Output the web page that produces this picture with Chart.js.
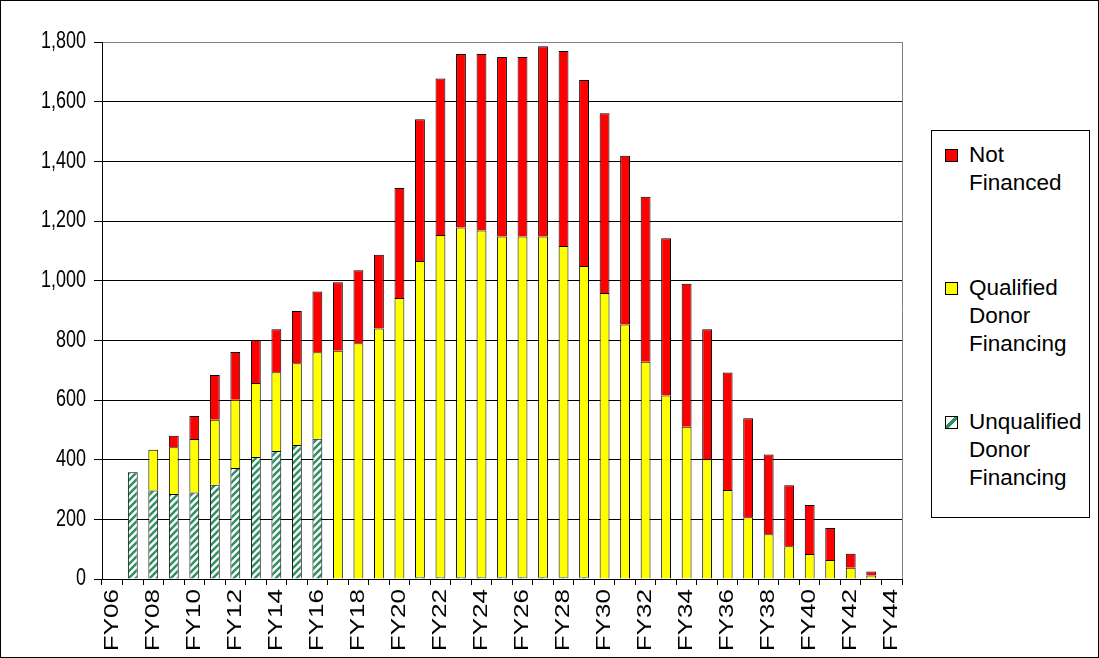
<!DOCTYPE html>
<html>
<head>
<meta charset="utf-8">
<script src="https://cdn.jsdelivr.net/npm/chart.js@4.4.1/dist/chart.umd.min.js"></script>
<style>
html,body{margin:0;padding:0;background:#fff;}
#c{position:absolute;left:0;top:0;}
#frame{position:absolute;left:0;top:0;width:1099px;height:658px;box-sizing:border-box;border:1px solid #000;pointer-events:none;}
#legend{position:absolute;left:931px;top:130px;width:159px;height:388px;box-sizing:border-box;border:1px solid #000;background:#fff;font-family:"Liberation Sans",Arial,sans-serif;font-size:22.5px;line-height:28px;color:#000;}
.item{position:absolute;left:0;width:100%;}
.sw{position:absolute;left:13px;top:8px;width:13px;height:13px;box-sizing:border-box;border:1px solid #000;}
.tx{position:absolute;left:37px;top:0;white-space:nowrap;}
</style>
</head>
<body>
<canvas id="c" width="1099" height="658"></canvas>
<div id="legend"></div>
<div id="frame"></div>
<script>
const categories = ['FY06','FY07','FY08','FY09','FY10','FY11','FY12','FY13','FY14','FY15','FY16','FY17','FY18','FY19','FY20','FY21','FY22','FY23','FY24','FY25','FY26','FY27','FY28','FY29','FY30','FY31','FY32','FY33','FY34','FY35','FY36','FY37','FY38','FY39','FY40','FY41','FY42','FY43','FY44'];
const unqualifiedDonor = [0,358,297,285,290,316,372,409,429,449,470,2,2,2,2,6,6,6,6,6,6,6,6,6,2,2,2,2,2,2,0,0,0,0,0,0,0,0,0];
const qualifiedDonor = [0,0,136,157,179,218,229,248,264,274,290,763,788,838,940,1060,1147,1172,1162,1142,1142,1142,1110,1043,957,851,726,613,508,400,298,207,150,110,84,64,38,12,0];
const notFinanced = [0,0,0,38,77,150,160,144,144,175,204,230,245,247,369,475,525,582,592,602,602,638,654,624,602,566,553,527,480,435,394,332,267,204,164,107,47,13,0];
const yTicks = [0,200,400,600,800,1000,1200,1400,1600,1800];
const seriesNames = ['Unqualified Donor Financing','Qualified Donor Financing','Not Financed'];
const legendLines = [['Not','Financed'],['Qualified','Donor','Financing'],['Unqualified','Donor','Financing']];

// hatch pattern
function makeHatch(){
  const s = 7;
  const pc = document.createElement('canvas');
  pc.width = s; pc.height = s;
  const g = pc.getContext('2d');
  g.fillStyle = '#ffffff'; g.fillRect(0,0,s,s);
  g.strokeStyle = '#2f9163'; g.lineWidth = 2.5;
  g.beginPath();
  g.moveTo(-1, s+1); g.lineTo(s+1, -1);
  g.moveTo(-1-s, s+1); g.lineTo(1, -1);
  g.moveTo(s-1, s+1); g.lineTo(2*s+1, -1);
  g.stroke();
  return g.createPattern(pc, 'repeat');
}
const ctx = document.getElementById('c').getContext('2d');
const hatch = makeHatch();
const fills = [hatch, '#ffff00', '#ff0000'];

Chart.defaults.font.family = '"Liberation Sans", Arial, sans-serif';
Chart.defaults.color = '#000';

// axis text in the original is vertically stretched; stretch glyphs about their anchor
const TEXT_STRETCH = 1.3;
const stretchText = {
  id: 'stretchText',
  beforeDraw(chart){
    const c = chart.ctx;
    const orig = CanvasRenderingContext2D.prototype.fillText;
    c.fillText = function(t, x, y, mw){
      const m = this.getTransform();
      const py = m.b*x + m.d*y + m.f;
      this.save();
      this.setTransform(1, 0, 0, TEXT_STRETCH, 0, py - TEXT_STRETCH*py);
      this.transform(m.a, m.b, m.c, m.d, m.e, m.f);
      if (mw === undefined) orig.call(this, t, x, y); else orig.call(this, t, x, y, mw);
      this.restore();
    };
  },
  afterDraw(chart){
    delete chart.ctx.fillText;
    const a = chart.chartArea, c = chart.ctx;
    c.save();
    c.strokeStyle = '#808080'; c.lineWidth = 1;
    c.beginPath();
    c.moveTo(Math.round(a.right)+0.5, a.top);
    c.lineTo(Math.round(a.right)+0.5, a.bottom);
    c.stroke();
    c.restore();
  }
};

new Chart(ctx, {
  type: 'bar',
  data: {
    labels: categories,
    datasets: [
      {label: seriesNames[0], data: unqualifiedDonor, backgroundColor: fills[0]},
      {label: seriesNames[1], data: qualifiedDonor, backgroundColor: fills[1]},
      {label: seriesNames[2], data: notFinanced, backgroundColor: fills[2]}
    ].map(d => Object.assign(d, {borderColor:'#000', borderWidth:1, barPercentage:0.48, categoryPercentage:1}))
  },
  options: {
    responsive: false,
    animation: false,
    devicePixelRatio: 1,
    layout: {padding: {left: 0, top: 42, right: 197, bottom: 0}},
    plugins: {legend: {display: false}, tooltip: {enabled: false}},
    scales: {
      x: {
        stacked: true,
        offset: true,
        grid: {display: true, offset: true, drawOnChartArea: false, drawTicks: true, tickLength: 6, tickColor: '#000', color: '#000'},
        border: {display: true, color: '#000', width: 1},
        ticks: {
          autoSkip: false, maxRotation: 90, minRotation: 90, padding: 4,
          font: {size: 20},
          callback: function(v, i){ return i % 2 === 0 ? categories[i] : ''; }
        },
        afterFit(scale){ scale.height = 79; }
      },
      y: {
        stacked: true,
        min: 0, max: 1800,
        afterBuildTicks(scale){ scale.ticks = yTicks.map(v => ({value: v})); },
        grid: {
          color: c => (c.tick && c.tick.value === 1800) ? '#808080' : '#000',
          lineWidth: 1, drawTicks: true, tickLength: 8, tickColor: '#000'
        },
        border: {display: true, color: '#000', width: 1},
        ticks: {
          padding: 8, font: {size: 18},
          callback: v => Number(v).toLocaleString('en-US')
        },
        afterFit(scale){ scale.width = 102; }
      }
    }
  },
  plugins: [stretchText]
});

// legend (reverse order: top series first)
const lg = document.getElementById('legend');
const tops = [10, 143, 277];
[2,1,0].forEach((di, k) => {
  const it = document.createElement('div');
  it.className = 'item'; it.style.top = tops[k] + 'px';
  const sw = document.createElement('div'); sw.className = 'sw';
  if (di === 0) {
    sw.style.background = 'linear-gradient(135deg, #fff 0 40%, #2f9163 40% 60%, #fff 60% 100%)';
  } else {
    sw.style.background = fills[di];
  }
  const tx = document.createElement('div'); tx.className = 'tx';
  tx.innerHTML = legendLines[k].join('<br>');
  it.appendChild(sw); it.appendChild(tx); lg.appendChild(it);
});
</script>
</body>
</html>
